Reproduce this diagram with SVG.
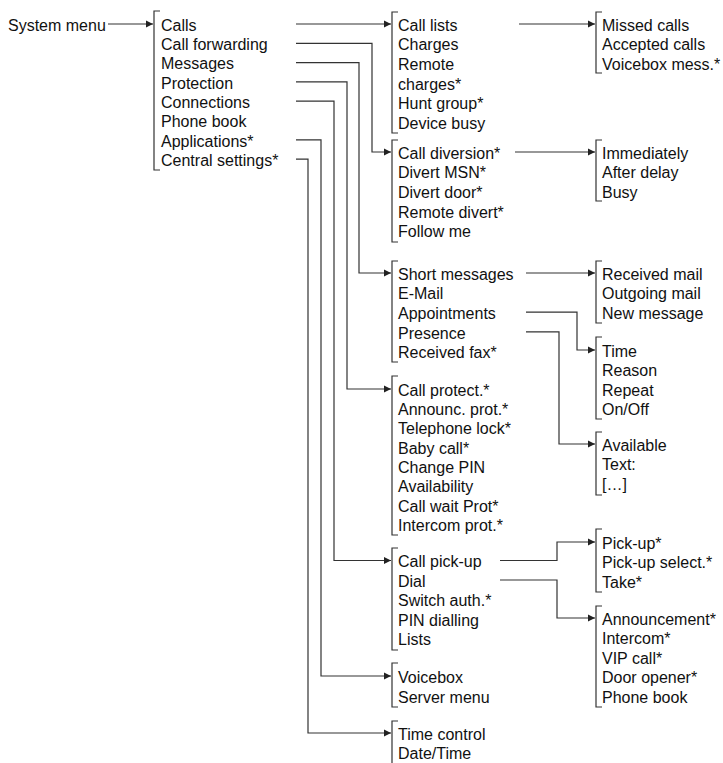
<svg xmlns="http://www.w3.org/2000/svg" width="723" height="763" viewBox="0 0 723 763">
<defs>
<style>
text{font-family:"Liberation Sans",Arial,sans-serif;font-size:16px;fill:#111}
.br{fill:none;stroke:#333;stroke-width:1.2}
.cn{fill:none;stroke:#333;stroke-width:1.2}
</style>
<marker id="ah" viewBox="0 0 7 8" refX="7" refY="4" markerWidth="7" markerHeight="8" markerUnits="userSpaceOnUse" orient="auto">
<path d="M0,0.5 L7,4 L0,7.5 z" fill="#222"/>
</marker>
</defs>
<rect width="723" height="763" fill="#fff"/>

<g id="root"><text x="8" y="30.8">System menu</text></g>

<g id="main">
<path class="br" d="M160,11 H154 V170 H160"/>
<text x="161" y="30.8">Calls</text>
<text x="161" y="50.1">Call forwarding</text>
<text x="161" y="69.4">Messages</text>
<text x="161" y="88.7">Protection</text>
<text x="161" y="108">Connections</text>
<text x="161" y="127.3">Phone book</text>
<text x="161" y="146.6">Applications*</text>
<text x="161" y="165.9">Central settings*</text>
</g>

<g id="calls">
<path class="br" d="M398,12 H392 V133 H398"/>
<text x="398" y="30.8">Call lists</text>
<text x="398" y="50.4">Charges</text>
<text x="398" y="70">Remote</text>
<text x="398" y="89.6">charges*</text>
<text x="398" y="109.2">Hunt group*</text>
<text x="398" y="128.8">Device busy</text>
</g>

<g id="forwarding">
<path class="br" d="M398,140 H392 V242 H398"/>
<text x="398" y="158.8">Call diversion*</text>
<text x="398" y="178.4">Divert MSN*</text>
<text x="398" y="198">Divert door*</text>
<text x="398" y="217.6">Remote divert*</text>
<text x="398" y="237.2">Follow me</text>
</g>

<g id="messages">
<path class="br" d="M398,261 H392 V362 H398"/>
<text x="398" y="279.8">Short messages</text>
<text x="398" y="299.4">E-Mail</text>
<text x="398" y="319">Appointments</text>
<text x="398" y="338.6">Presence</text>
<text x="398" y="358.2">Received fax*</text>
</g>

<g id="protection">
<path class="br" d="M398,376 H392 V535 H398"/>
<text x="398" y="395.8">Call protect.*</text>
<text x="398" y="415.1">Announc. prot.*</text>
<text x="398" y="434.4">Telephone lock*</text>
<text x="398" y="453.7">Baby call*</text>
<text x="398" y="473">Change PIN</text>
<text x="398" y="492.3">Availability</text>
<text x="398" y="511.6">Call wait Prot*</text>
<text x="398" y="530.9">Intercom prot.*</text>
</g>

<g id="connections">
<path class="br" d="M398,548 H392 V650 H398"/>
<text x="398" y="567.3">Call pick-up</text>
<text x="398" y="586.8">Dial</text>
<text x="398" y="606.3">Switch auth.*</text>
<text x="398" y="625.8">PIN dialling</text>
<text x="398" y="645.3">Lists</text>
</g>

<g id="applications">
<path class="br" d="M398,663 H392 V707 H398"/>
<text x="398" y="683.2">Voicebox</text>
<text x="398" y="702.7">Server menu</text>
</g>

<g id="central">
<path class="br" d="M398,721 H392 V763"/>
<text x="398" y="740">Time control</text>
<text x="398" y="759.4">Date/Time</text>
</g>

<g id="calllists">
<path class="br" d="M602,12 H596 V73 H602"/>
<text x="602" y="30.8">Missed calls</text>
<text x="602" y="50.3">Accepted calls</text>
<text x="602" y="69.8">Voicebox mess.*</text>
</g>

<g id="diversion">
<path class="br" d="M602,140 H596 V201 H602"/>
<text x="602" y="158.8">Immediately</text>
<text x="602" y="178.3">After delay</text>
<text x="602" y="197.8">Busy</text>
</g>

<g id="shortmsg">
<path class="br" d="M602,261 H596 V323 H602"/>
<text x="602" y="279.8">Received mail</text>
<text x="602" y="299.4">Outgoing mail</text>
<text x="602" y="319">New message</text>
</g>

<g id="appointments">
<path class="br" d="M602,337 H596 V419 H602"/>
<text x="602" y="356.8">Time</text>
<text x="602" y="376.3">Reason</text>
<text x="602" y="395.8">Repeat</text>
<text x="602" y="415.3">On/Off</text>
</g>

<g id="presence">
<path class="br" d="M602,432 H596 V495 H602"/>
<text x="602" y="450.8">Available</text>
<text x="602" y="470.3">Text:</text>
<text x="602" y="489.8">[…]</text>
</g>

<g id="pickup">
<path class="br" d="M602,529 H596 V592 H602"/>
<text x="602" y="548.8">Pick-up*</text>
<text x="602" y="568.3">Pick-up select.*</text>
<text x="602" y="587.8">Take*</text>
</g>

<g id="dial">
<path class="br" d="M602,606 H596 V707 H602"/>
<text x="602" y="624.8">Announcement*</text>
<text x="602" y="644.3">Intercom*</text>
<text x="602" y="663.8">VIP call*</text>
<text x="602" y="683.3">Door opener*</text>
<text x="602" y="702.8">Phone book</text>
</g>

<g id="connectors">
<path class="cn" d="M108,24 H153" marker-end="url(#ah)"/>
<path class="cn" d="M296,24 H391" marker-end="url(#ah)"/>
<path class="cn" d="M296,43.3 H372 V152 H391" marker-end="url(#ah)"/>
<path class="cn" d="M296,62.6 H359 V273 H391" marker-end="url(#ah)"/>
<path class="cn" d="M296,81.9 H347 V389 H391" marker-end="url(#ah)"/>
<path class="cn" d="M296,101.2 H334 V560.5 H391" marker-end="url(#ah)"/>
<path class="cn" d="M296,139.8 H321 V676 H391" marker-end="url(#ah)"/>
<path class="cn" d="M296,159.1 H308 V733 H391" marker-end="url(#ah)"/>
<path class="cn" d="M519,24 H595" marker-end="url(#ah)"/>
<path class="cn" d="M515,152 H595" marker-end="url(#ah)"/>
<path class="cn" d="M526,273 H595" marker-end="url(#ah)"/>
<path class="cn" d="M526,312.2 H577 V350 H595" marker-end="url(#ah)"/>
<path class="cn" d="M526,331.8 H559 V444 H595" marker-end="url(#ah)"/>
<path class="cn" d="M500,560.5 H557 V542 H595" marker-end="url(#ah)"/>
<path class="cn" d="M500,580 H557 V618 H595" marker-end="url(#ah)"/>
</g>
</svg>
